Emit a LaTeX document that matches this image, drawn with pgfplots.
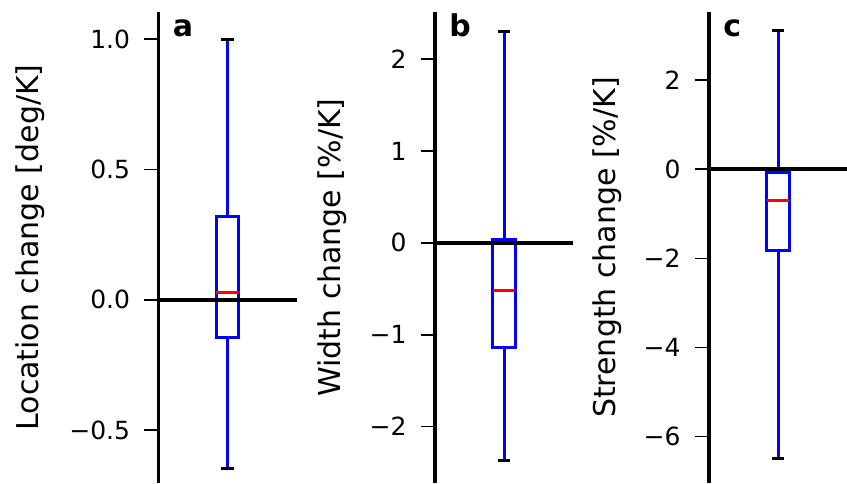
\documentclass[border=0pt]{standalone}
\usepackage{fontspec}
\setmainfont{DejaVu Sans}
\usepackage{pgfplots}
\pgfplotsset{compat=1.18}
\definecolor{boxblue}{RGB}{0,0,255}
\definecolor{medred}{RGB}{255,0,0}
\pgfplotsset{
  panel/.style={
    scale only axis, width=69pt, height=235.5pt,
    xmin=0.5, xmax=1.5,
    axis x line=none, axis y line*=left,
    axis line style={line width=1.75pt},
    tick align=outside, major tick length=7pt,
    every tick/.style={black, line width=0.8pt},
    tick label style={font=\fontsize{12.5}{15}\selectfont},
    yticklabel style={inner sep=0pt, xshift=-7pt},
    label style={font=\fontsize{15}{18}\selectfont},
    clip=false,
  },
  box/.style={boxblue, line width=1.5pt, line join=miter},
  cap/.style={black, line width=1.5pt},
  med/.style={medred, line width=1.5pt},
  zero/.style={black, line width=1.75pt},
}
\newcommand{\letter}[1]{\node[font=\bfseries\fontsize{15}{18}\selectfont, anchor=base west, inner sep=0pt]
  at ([xshift=7pt,yshift=-12.35pt]rel axis cs:0,1) {#1};}
\begin{document}
\begin{tikzpicture}
% panel a: location
\begin{axis}[panel, at={(79.25pt,0pt)}, anchor=south west,
  ymin=-0.703, ymax=1.104,
  ytick={-0.5,0,0.5,1}, yticklabels={−0.5,0.0,0.5,1.0},
  ylabel={Location change [deg/K]},
  ylabel style={at={([xshift=-60pt]axis description cs:0,0.5)}, anchor=base}]
\addplot[box] coordinates {(0.917,-0.143) (1.083,-0.143) (1.083,0.321) (0.917,0.321)} -- cycle;
\addplot[box] coordinates {(1,0.321) (1,1.0)};
\addplot[box] coordinates {(1,-0.143) (1,-0.649)};
\addplot[cap] coordinates {(0.956,1.0) (1.044,1.0)};
\addplot[cap] coordinates {(0.956,-0.649) (1.044,-0.649)};
\addplot[med] coordinates {(0.917,0.026) (1.083,0.026)};
\addplot[zero] coordinates {(0.5,0) (1.5,0)};
\letter{a}
\end{axis}
% panel b: width
\begin{axis}[panel, at={(217.5pt,0pt)}, anchor=south west,
  ymin=-2.613, ymax=2.511,
  ytick={-2,-1,0,1,2}, yticklabels={−2,−1,0,1,2},
  ylabel={Width change [\%/K]},
  ylabel style={at={([xshift=-47.25pt]axis description cs:0,0.5)}, anchor=base}]
\addplot[box] coordinates {(0.917,-1.141) (1.083,-1.141) (1.083,0.039) (0.917,0.039)} -- cycle;
\addplot[box] coordinates {(1,0.039) (1,2.294)};
\addplot[box] coordinates {(1,-1.141) (1,-2.366)};
\addplot[cap] coordinates {(0.956,2.294) (1.044,2.294)};
\addplot[cap] coordinates {(0.956,-2.366) (1.044,-2.366)};
\addplot[med] coordinates {(0.917,-0.521) (1.083,-0.521)};
\addplot[zero] coordinates {(0.5,0) (1.5,0)};
\letter{b}
\end{axis}
% panel c: strength
\begin{axis}[panel, at={(354.5pt,0pt)}, anchor=south west,
  ymin=-7.04, ymax=3.525,
  ytick={-6,-4,-2,0,2}, yticklabels={−6,−4,−2,0,2},
  ylabel={Strength change [\%/K]},
  ylabel style={at={([xshift=-47pt]axis description cs:0,0.5)}, anchor=base}]
\addplot[box] coordinates {(0.917,-1.83) (1.083,-1.83) (1.083,-0.078) (0.917,-0.078)} -- cycle;
\addplot[box] coordinates {(1,-0.078) (1,3.12)};
\addplot[box] coordinates {(1,-1.83) (1,-6.48)};
\addplot[cap] coordinates {(0.956,3.12) (1.044,3.12)};
\addplot[cap] coordinates {(0.956,-6.48) (1.044,-6.48)};
\addplot[med] coordinates {(0.917,-0.70) (1.083,-0.70)};
\addplot[zero] coordinates {(0.5,0) (1.5,0)};
\letter{c}
\end{axis}
\pgfresetboundingbox
\path[use as bounding box] (0pt,0pt) rectangle (423.5pt,241.5pt);
\end{tikzpicture}
\end{document}
